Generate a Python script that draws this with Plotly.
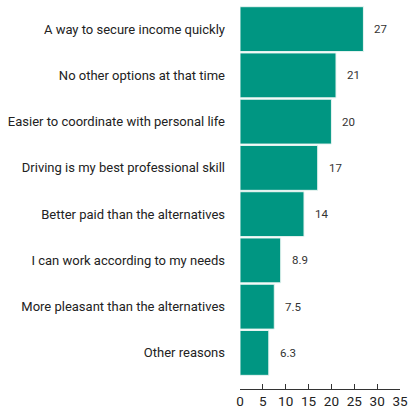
import plotly.graph_objects as go

categories = [
    "A way to secure income quickly",
    "No other options at that time",
    "Easier to coordinate with personal life",
    "Driving is my best professional skill",
    "Better paid than the alternatives",
    "I can work according to my needs",
    "More pleasant than the alternatives",
    "Other reasons",
]
values = [27, 21, 20, 17, 14, 8.9, 7.5, 6.3]
value_labels = ["27", "21", "20", "17", "14", "8.9", "7.5", "6.3"]
x_ticks = [0, 5, 10, 15, 20, 25, 30, 35]

cats_r = categories[::-1]
vals_r = values[::-1]
labs_r = value_labels[::-1]

fig = go.Figure(go.Bar(
    x=vals_r, y=cats_r, orientation="h",
    marker=dict(color="#009682", line=dict(color="#e8f4f1", width=1)),
    width=0.97,
))

for c, v, t in zip(cats_r, vals_r, labs_r):
    fig.add_annotation(x=v, y=c, text=t, showarrow=False, xanchor="left",
                       xshift=9, font=dict(family="Roboto", size=11.5, color="#333333"))

fig.update_layout(
    width=409, height=408,
    margin=dict(l=240, r=9, t=6, b=19),
    paper_bgcolor="white", plot_bgcolor="white",
    showlegend=False,
    font=dict(family="Roboto", color="#222222"),
    bargap=0.03,
)
fig.update_xaxes(
    range=[0, 35], tickvals=x_ticks, showgrid=False, zeroline=False,
    showline=True, linecolor="#333333", linewidth=1,
    ticks="inside", ticklen=5, tickcolor="#333333", automargin=False,
    tickfont=dict(family="Roboto", size=13.5, color="#222222"),
)
fig.update_yaxes(
    range=[-0.78, 7.5], showgrid=False, zeroline=False, showline=False,
    ticks="", ticklabelstandoff=14, automargin=False,
    tickfont=dict(family="Roboto", size=13, color="#222222"),
)

fig.write_html("out.html")
